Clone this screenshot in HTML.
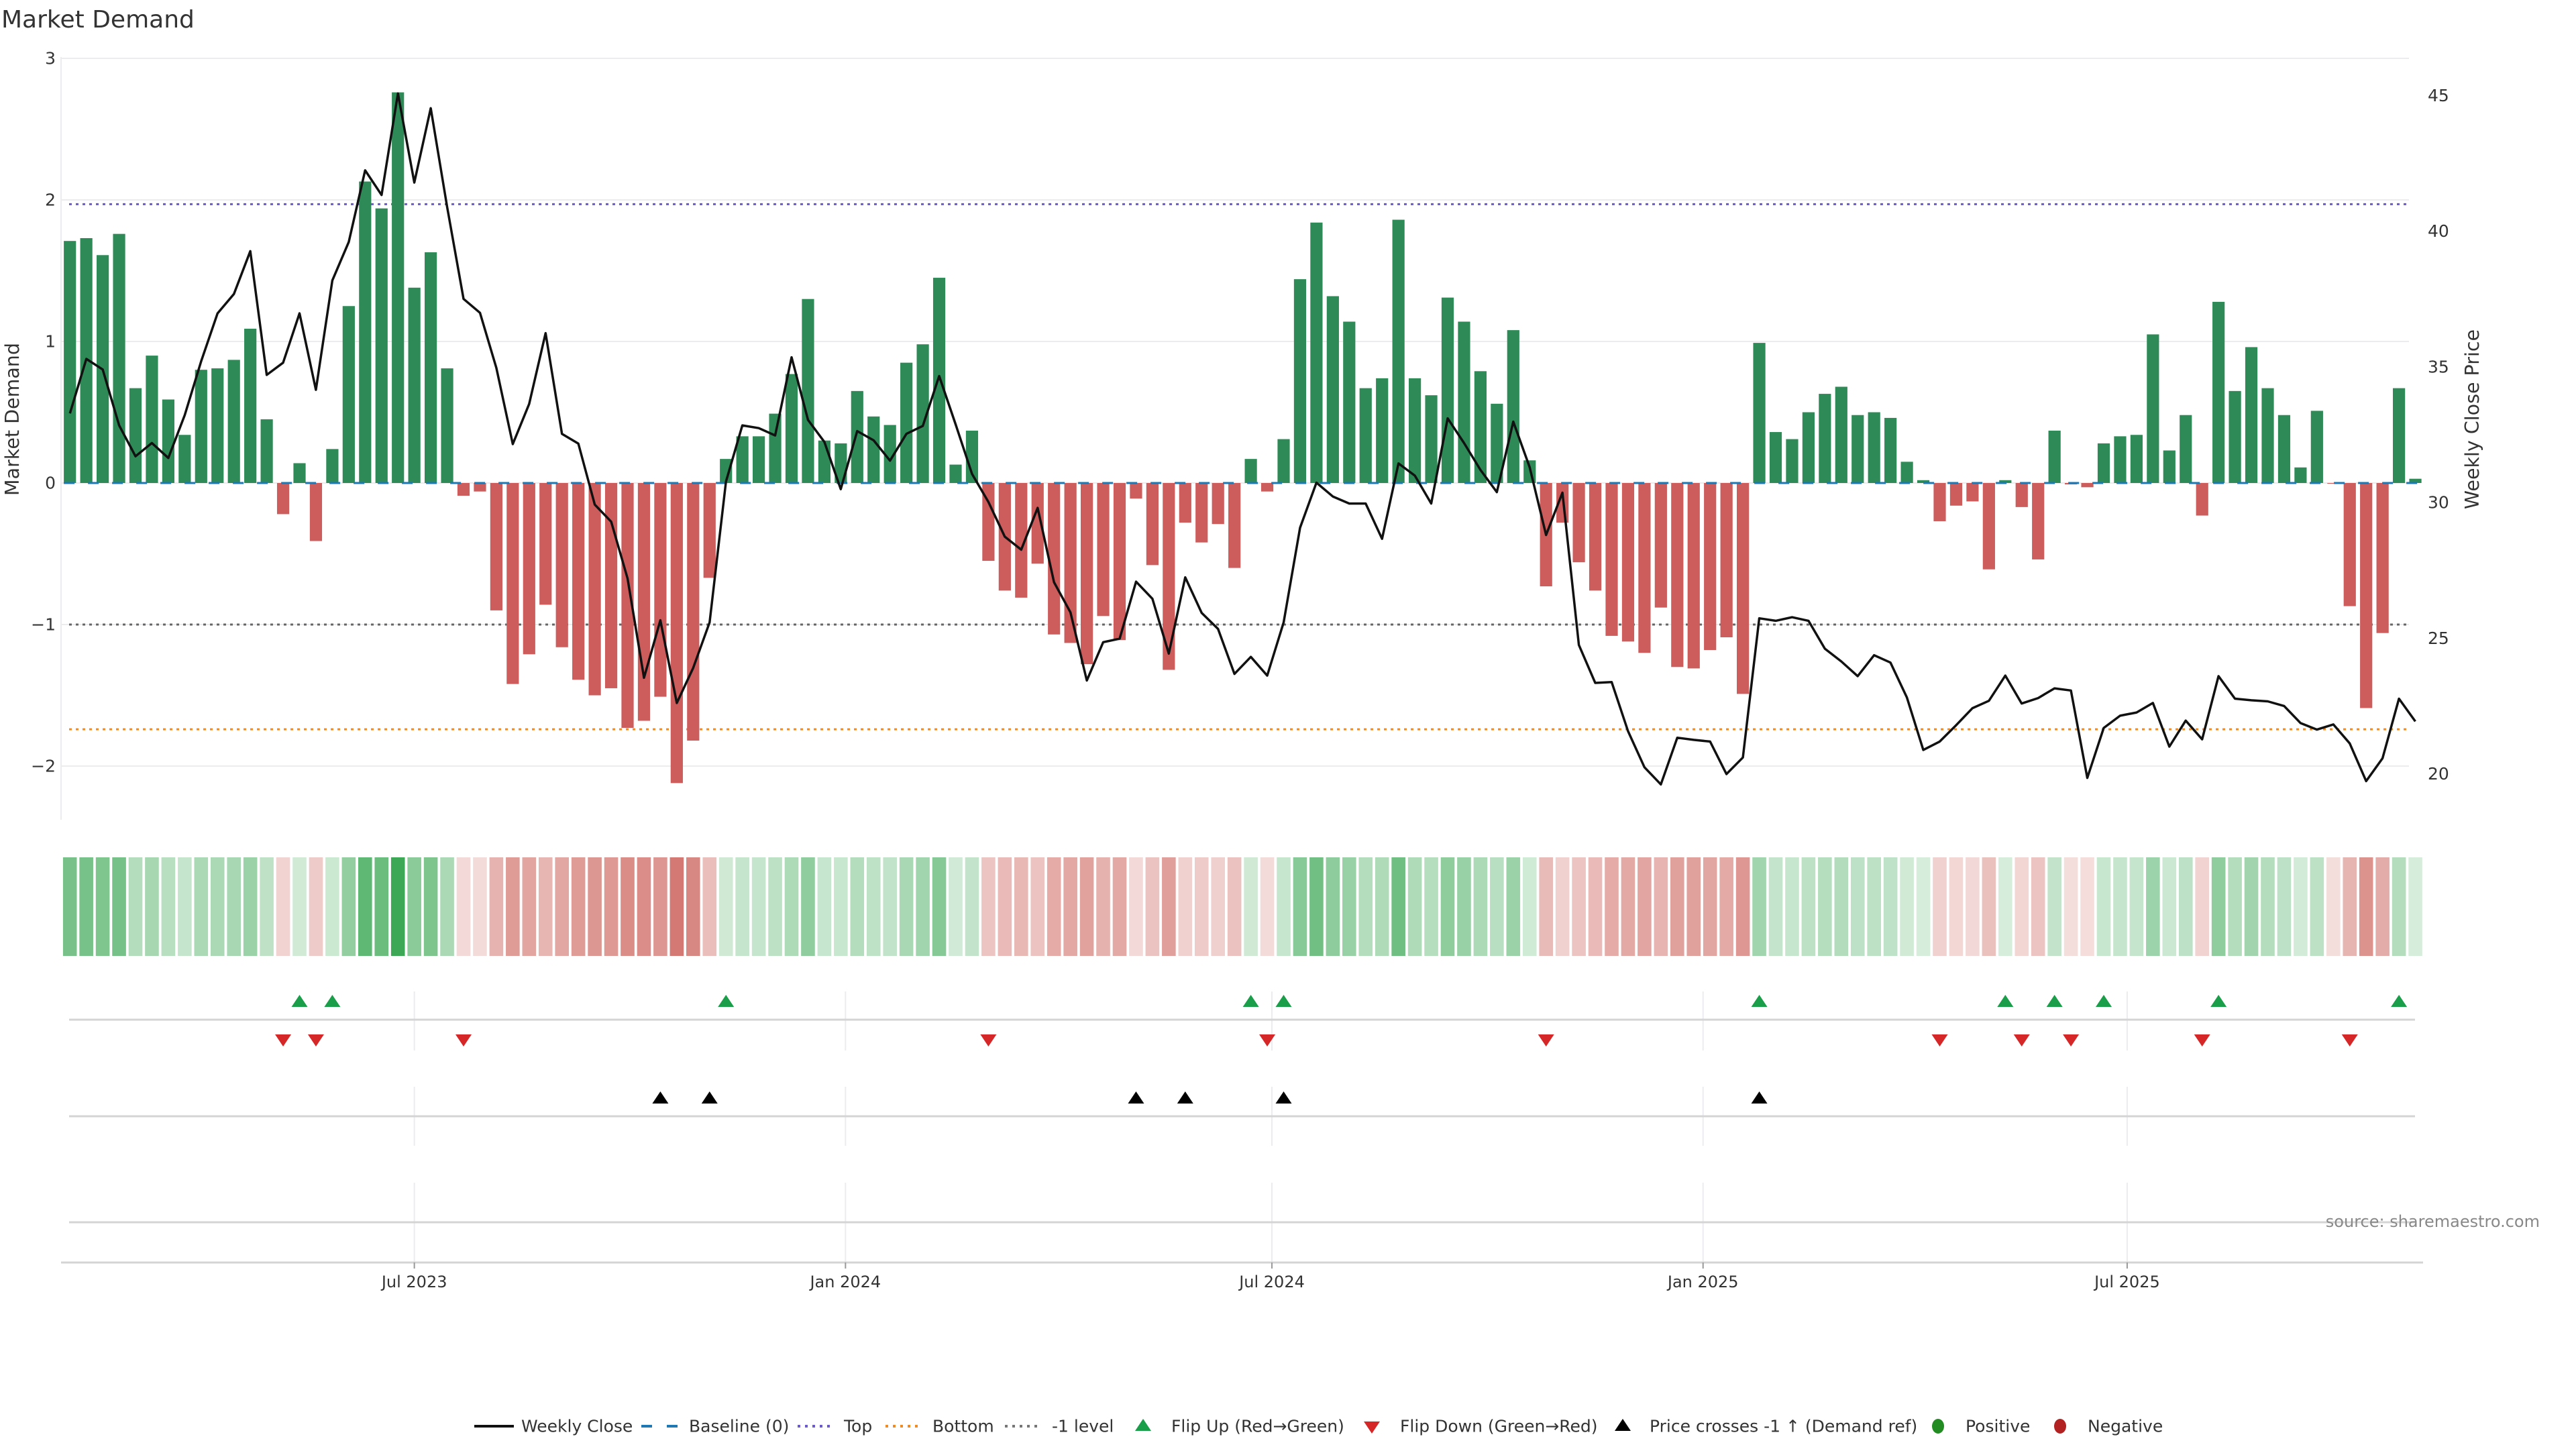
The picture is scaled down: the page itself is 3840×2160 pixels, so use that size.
<!DOCTYPE html>
<html><head><meta charset="utf-8"><title>Market Demand</title>
<style>html,body{margin:0;padding:0;background:#fff}svg{display:block;font-family:"DejaVu Sans","Liberation Sans",sans-serif}</style>
</head><body>
<svg id="chart" xmlns="http://www.w3.org/2000/svg" width="3840" height="2160" viewBox="0 0 3840 2160">
<rect x="0" y="0" width="3840" height="2160" fill="#fff"/>
<text x="2" y="41" font-size="36" fill="#333">Market Demand</text>
<g id="grid"></g><g id="refs"></g><g id="bars"></g><g id="line"></g><g id="heat"></g><g id="marks"></g><g id="axes"></g>
<text transform="translate(28,625) rotate(-90)" text-anchor="middle" font-size="28.5" fill="#333">Market Demand</text>
<text transform="translate(3695,625) rotate(-90)" text-anchor="middle" font-size="28.5" fill="#333">Weekly Close Price</text>
<text x="3786" y="1829" text-anchor="end" font-size="24" fill="#888">source: sharemaestro.com</text>
<g id="legend"></g>
</svg>
<script>
const demand = [1.71,1.73,1.61,1.76,0.67,0.90,0.59,0.34,0.80,0.81,0.87,1.09,0.45,-0.22,0.14,-0.41,0.24,1.25,2.13,1.94,2.76,1.38,1.63,0.81,-0.09,-0.06,-0.90,-1.42,-1.21,-0.86,-1.16,-1.39,-1.50,-1.45,-1.73,-1.68,-1.51,-2.12,-1.82,-0.67,0.17,0.33,0.33,0.49,0.77,1.30,0.30,0.28,0.65,0.47,0.41,0.85,0.98,1.45,0.13,0.37,-0.55,-0.76,-0.81,-0.57,-1.07,-1.13,-1.28,-0.94,-1.11,-0.11,-0.58,-1.32,-0.28,-0.42,-0.29,-0.60,0.17,-0.06,0.31,1.44,1.84,1.32,1.14,0.67,0.74,1.86,0.74,0.62,1.31,1.14,0.79,0.56,1.08,0.16,-0.73,-0.28,-0.56,-0.76,-1.08,-1.12,-1.20,-0.88,-1.30,-1.31,-1.18,-1.09,-1.49,0.99,0.36,0.31,0.50,0.63,0.68,0.48,0.50,0.46,0.15,0.02,-0.27,-0.16,-0.13,-0.61,0.02,-0.17,-0.54,0.37,-0.01,-0.03,0.28,0.33,0.34,1.05,0.23,0.48,-0.23,1.28,0.65,0.96,0.67,0.48,0.11,0.51,-0.005,-0.87,-1.59,-1.06,0.67,0.03];
const price = [33.28,35.29,34.9,32.84,31.7,32.19,31.64,33.22,35.2,36.97,37.68,39.26,34.7,35.15,36.97,34.15,38.18,39.6,42.24,41.33,45.07,41.79,44.53,40.88,37.5,36.99,34.96,32.15,33.63,36.24,32.53,32.17,29.92,29.29,27.2,23.54,25.66,22.61,23.9,25.58,30.77,32.84,32.74,32.47,35.35,33.04,32.23,30.49,32.63,32.29,31.54,32.53,32.82,34.66,32.88,31.05,30.02,28.74,28.26,29.8,27.06,25.95,23.44,24.85,24.98,27.08,26.45,24.43,27.24,25.93,25.34,23.68,24.31,23.62,25.58,29.07,30.73,30.22,29.96,29.96,28.66,31.44,30.99,29.96,33.1,32.19,31.2,30.38,32.98,31.3,28.8,30.36,24.75,23.35,23.38,21.57,20.24,19.61,21.33,21.25,21.19,19.99,20.6,25.73,25.64,25.77,25.64,24.61,24.14,23.6,24.37,24.1,22.81,20.88,21.19,21.79,22.42,22.69,23.62,22.59,22.79,23.15,23.07,19.85,21.69,22.14,22.26,22.61,21.0,21.96,21.27,23.6,22.77,22.71,22.67,22.5,21.87,21.63,21.82,21.12,19.73,20.57,22.77,21.93];
const flipUp = [14,16,40,72,74,103,118,121,124,131,142];
const flipDown = [13,15,24,56,73,90,114,119,122,130,139];
const priceCross = [36,39,65,68,74,103];
const yTicks = [3,2,1,0,-1,-2];
const priceTicks = [20,25,30,35,40,45];
const refTop = 1.97, refBottom = -1.74, refMinus1 = -1;
const dateTicks = ["2023-07-01","2024-01-01","2024-07-01","2025-01-01","2025-07-01"];
const dateLabels = ["Jul 2023","Jan 2024","Jul 2024","Jan 2025","Jul 2025"];
const startDate = "2023-02-04";

const NS="http://www.w3.org/2000/svg";
function mk(parent,tag,attrs){const e=document.createElementNS(NS,tag);for(const k in attrs)e.setAttribute(k,attrs[k]);parent.appendChild(e);return e;}
const X0=104.2, PITCH=24.45, BW=18.2;
const xi=i=>X0+PITCH*i;
const yv=v=>720-211*v;
const yp=p=>749-40.45*(p-30);
const xd=d=>X0+PITCH*((new Date(d)-new Date(startDate))/86400000/7);
const L=91, R=3591, R2=3600;
const G=document.getElementById('grid'), RF=document.getElementById('refs'), B=document.getElementById('bars'), LN=document.getElementById('line'), H=document.getElementById('heat'), M=document.getElementById('marks'), AX=document.getElementById('axes'), LG=document.getElementById('legend');

yTicks.forEach(t=>{
  const g=mk(G,'line',{x1:L,x2:R,y1:yv(t),y2:yv(t),stroke:'#ececef','stroke-width':2});
  
  
  const tx=mk(AX,'text',{x:83,y:yv(t),'text-anchor':'end','dominant-baseline':'central','font-size':25,fill:'#333'});
  tx.textContent=(t<0?'\u2212':'')+Math.abs(t);
  
  
});
priceTicks.forEach(t=>{
  const tx=mk(AX,'text',{x:3619,y:yp(t),'dominant-baseline':'central','font-size':25,fill:'#333'});
  tx.textContent=t;
  
  
});
const al=mk(AX,'line',{x1:L,x2:L,y1:85,y2:1222,stroke:'#ececef','stroke-width':2});



[[refTop,'#6a5acd','ref-top'],[refBottom,'#f08a24','ref-bottom'],[refMinus1,'#666','ref-minus1']].forEach(r=>{
  const l=mk(RF,'line',{x1:103,x2:R,y1:yv(r[0]),y2:yv(r[0]),stroke:r[1],'stroke-width':3,'stroke-dasharray':'4 6'});
  
  
});

demand.forEach((v,i)=>{
  const y0=yv(0), y1=yv(v);
  const r=mk(B,'rect',{x:xi(i)-BW/2,y:Math.min(y0,y1),width:BW,height:Math.max(Math.abs(y1-y0),0.5),fill:v>=0?'#2e8b57':'#cd5c5c'});
  
  
});
const bl=mk(B,'line',{x1:X0-BW/2,x2:xi(demand.length-1)+BW/2,y1:yv(0),y2:yv(0),stroke:'#1f77b4','stroke-width':3,'stroke-dasharray':'16 20'});



const pl=mk(LN,'polyline',{points:price.map((p,i)=>xi(i).toFixed(1)+','+yp(p).toFixed(1)).join(' '),fill:'none',stroke:'#111','stroke-width':3.5,'stroke-linejoin':'round'});



const vmax=Math.max(...demand.map(Math.abs));
demand.forEach((v,i)=>{
  const a=0.2+0.8*Math.min(Math.abs(v)/vmax,1);
  const base=v>=0?[61,168,86]:[202,91,83];
  const c=base.map(b=>Math.round(255-(255-b)*a));
  const r=mk(H,'rect',{x:xi(i)-10.3,y:1278,width:20.6,height:147,fill:'rgb('+c.join(',')+')'});
  
  
});

[[1478,1566],[1620,1708],[1763,1882]].forEach(s=>{
  dateTicks.forEach(d=>{
    const l=mk(G,'line',{x1:xd(d),x2:xd(d),y1:s[0],y2:s[1],stroke:'#ececef','stroke-width':2});
    
    
  });
});
[1520,1664,1822].forEach(y=>{
  const l=mk(G,'line',{x1:103,x2:R2,y1:y,y2:y,stroke:'#d4d4d4','stroke-width':3});
  
  
});
const xa=mk(AX,'line',{x1:L,x2:3612,y1:1882,y2:1882,stroke:'#d4d4d4','stroke-width':3});


dateTicks.forEach((d,k)=>{
  const t=mk(AX,'line',{x1:xd(d),x2:xd(d),y1:1882,y2:1891,stroke:'#999','stroke-width':2});
  
  
  const tx=mk(AX,'text',{x:xd(d),y:1911,'text-anchor':'middle','dominant-baseline':'central','font-size':24,fill:'#333'});
  tx.textContent=dateLabels[k];
  
  
});

function tri(parent,cx,cy,up,fill){
  const w=12,h=9;
  const pts=up?[[cx-w,cy+h],[cx+w,cy+h],[cx,cy-h]]:[[cx-w,cy-h],[cx+w,cy-h],[cx,cy+h]];
  return mk(parent,'polygon',{points:pts.map(p=>p.join(',')).join(' '),fill:fill});
}
flipUp.forEach(i=>{const t=tri(M,xi(i),1492,true,'#1a9e4a');
  
  });
flipDown.forEach(i=>{const t=tri(M,xi(i),1551,false,'#d62728');
  
  });
priceCross.forEach(i=>{const t=tri(M,xi(i),1636,true,'#000');
  
  });

const LY=2126;
function ltext(x,s,name){const t=mk(LG,'text',{x:x,y:LY,'dominant-baseline':'central','font-size':25,fill:'#333'});t.textContent=s;
  
  }
let e;
e=mk(LG,'line',{x1:707,x2:766,y1:LY,y2:LY,stroke:'#111','stroke-width':4});
ltext(777,'Weekly Close','legend-weekly-close');
e=mk(LG,'line',{x1:956,x2:1010,y1:LY,y2:LY,stroke:'#1f77b4','stroke-width':4,'stroke-dasharray':'16 22'});
ltext(1027,'Baseline (0)','legend-baseline');
e=mk(LG,'line',{x1:1189,x2:1241,y1:LY,y2:LY,stroke:'#6a5acd','stroke-width':4,'stroke-dasharray':'4 7'});
ltext(1258,'Top','legend-top');
e=mk(LG,'line',{x1:1320,x2:1374,y1:LY,y2:LY,stroke:'#f08a24','stroke-width':4,'stroke-dasharray':'4 7'});
ltext(1390,'Bottom','legend-bottom');
e=mk(LG,'line',{x1:1498,x2:1551,y1:LY,y2:LY,stroke:'#777','stroke-width':4,'stroke-dasharray':'4 7'});
ltext(1568,'-1 level','legend-minus1');
tri(LG,1704,LY-2,true,'#1a9e4a');
ltext(1746,'Flip Up (Red\u2192Green)','legend-flip-up');
tri(LG,2045,LY+2,false,'#d62728');
ltext(2087,'Flip Down (Green\u2192Red)','legend-flip-down');
tri(LG,2419,LY-2,true,'#000');
ltext(2459,'Price crosses -1 \u2191 (Demand ref)','legend-price-cross');
mk(LG,'ellipse',{cx:2889,cy:LY,rx:9,ry:11,fill:'#228b22'});
ltext(2930,'Positive','legend-positive');
mk(LG,'ellipse',{cx:3071,cy:LY,rx:9,ry:11,fill:'#b22222'});
ltext(3112,'Negative','legend-negative');
</script>
</body></html>
